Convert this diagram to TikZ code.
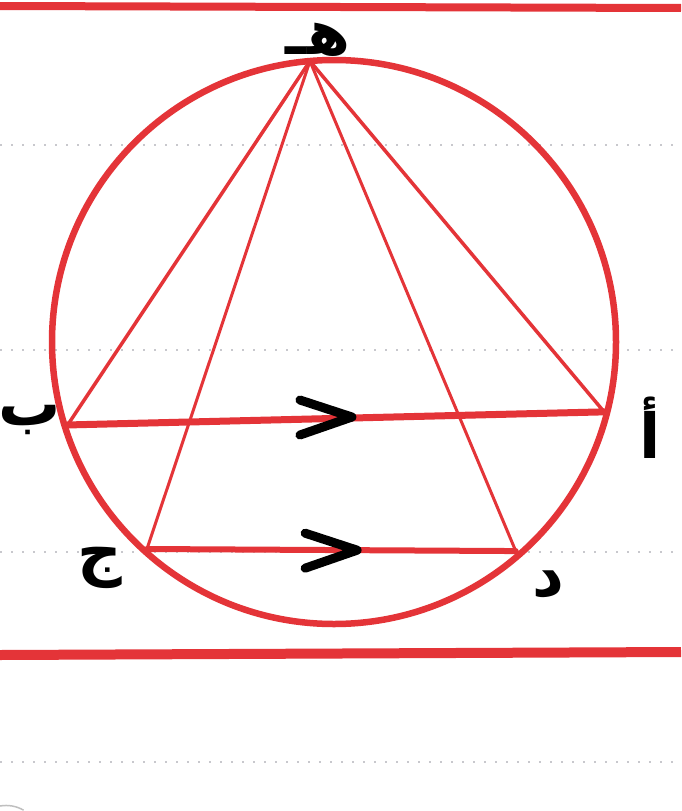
\documentclass[tikz,border=0pt]{standalone}
\usepackage{fontspec}
\usetikzlibrary{calc}
\newfontfamily\arabicfont[Script=Arabic]{DejaVu Sans}
\TeXXeTstate=1
\definecolor{pen}{RGB}{228,52,56}
\definecolor{rule}{RGB}{200,200,205}
\begin{document}
\begin{tikzpicture}[x=1pt,y=1pt,
  redline/.style={draw=pen,line cap=round},
  chev/.style={draw=black,line width=9pt,line cap=round,line join=round},
  lbl/.style={font=\arabicfont\fontsize{62}{64}\selectfont\bfseries,text=black,inner sep=0pt},
  note/.style={draw=rule,line width=2pt,dash pattern=on 2pt off 9pt}]
\useasboundingbox (0,0) rectangle (681,-811);
\fill[white] (0,0) rectangle (681,-811);
% notebook rules
\draw[note] (0,-145) -- (681,-145);
\draw[note] (0,-350) -- (681,-350);
\draw[note] (0,-552) -- (681,-552);
\draw[note] (0,-762) -- (681,-762);
\draw[redline,line width=8pt,line cap=butt] (0,-6) -- (681,-8);
\draw[redline,line width=10pt,line cap=butt] (0,-655) -- (681,-652);
\draw[gray!50,line width=1.5pt] (0,-806) arc[start angle=100,end angle=60,radius=35];
% circle
\coordinate (O) at (334,-342);
\draw[redline,line width=6.5pt] (O) circle[radius=282];
\coordinate (E) at ($(O)+(94.9:282)$);
\coordinate (B) at ($(O)+(197.3:279)$);
\coordinate (A) at ($(O)+(-14.5:279)$);
\coordinate (C) at ($(O)+(227.9:279)$);
\coordinate (D) at ($(O)+(-49:277)$);
% chords
\draw[redline,line width=3.5pt] (E) -- (B);
\draw[redline,line width=3pt] (E) -- (C);
\draw[redline,line width=3pt] (E) -- (D);
\draw[redline,line width=3.5pt] (E) -- (A);
\draw[redline,line width=7pt] (B) -- (A);
\draw[redline,line width=6pt] (C) -- (D);
% parallel marks
\coordinate (m1) at ($(B)!0.53!(A)$);
\coordinate (m2) at ($(C)!0.57!(D)$);
\draw[chev] ($(m1)+(-52,18)$) -- ($(m1)+(0,1)$) -- ($(m1)+(-52,-17)$);
\draw[chev] ($(m2)+(-52,17)$) -- ($(m2)+(0,0)$) -- ($(m2)+(-52,-18)$);
% labels
\node[lbl] (lE) at (318,-40) {\beginR هـ\endR};
\node[lbl] (lB) at (30,-420) {\beginR ب\endR};
\node[lbl] (lA) at (650,-428) {\beginR أ\endR};
\node[lbl] (lC) at (100,-568) {\beginR ج\endR};
\node[lbl] (lD) at (548,-584) {\beginR د\endR};
\end{tikzpicture}
\end{document}
